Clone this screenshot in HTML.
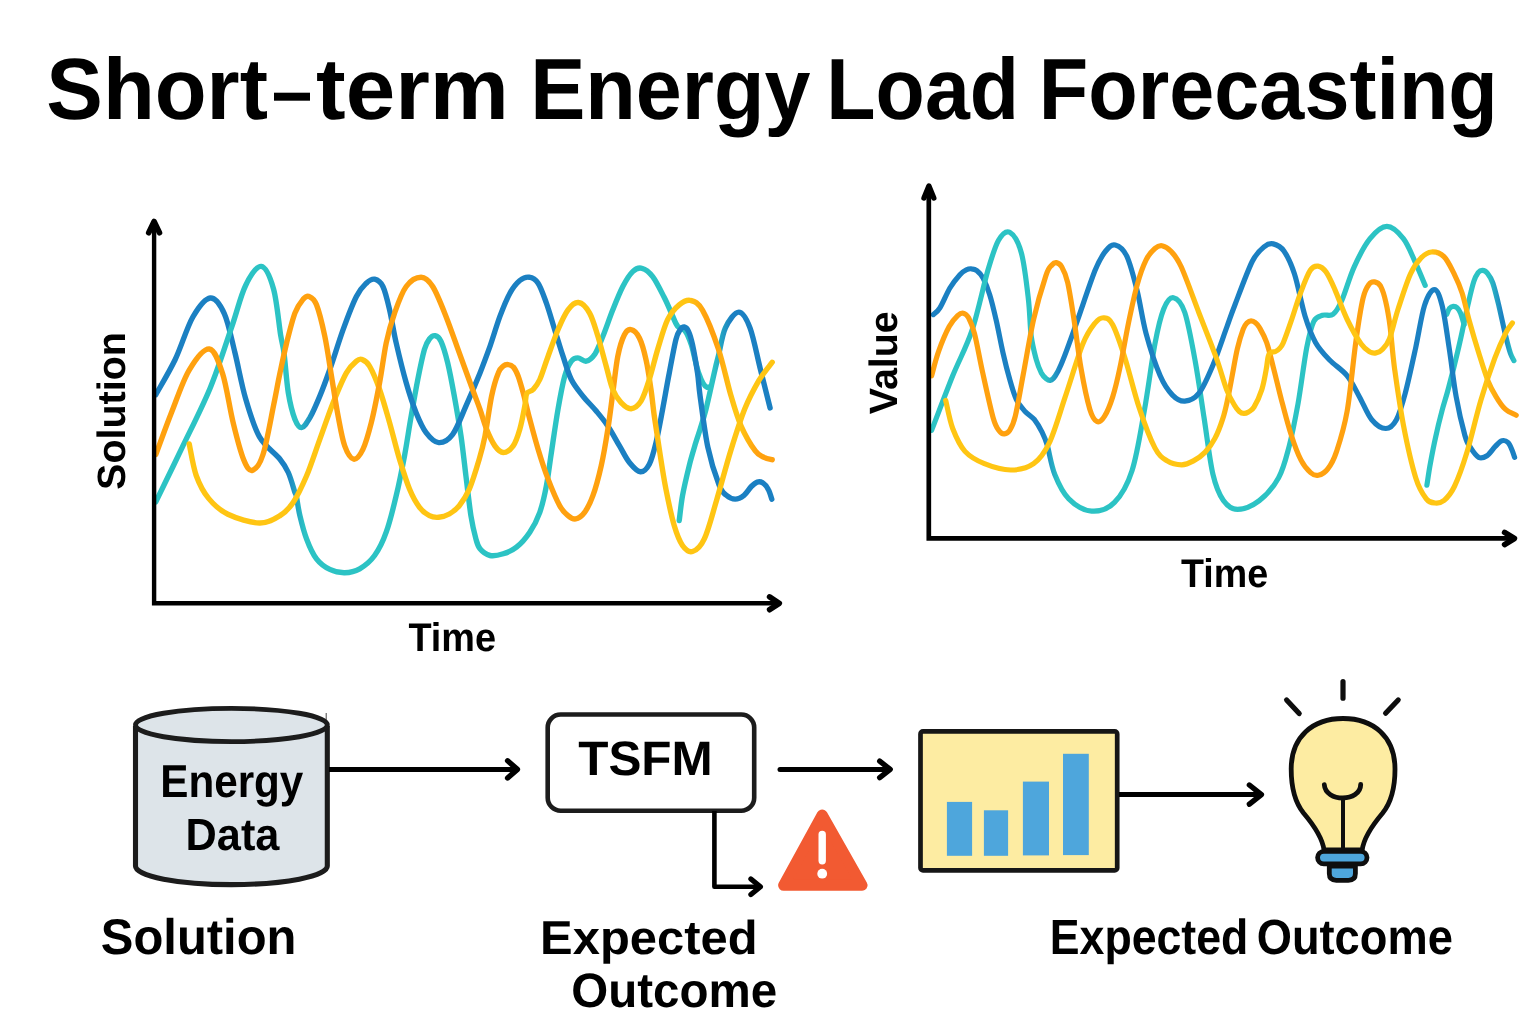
<!DOCTYPE html>
<html><head><meta charset="utf-8"><title>Short-term Energy Load Forecasting</title>
<style>
html,body{margin:0;padding:0;background:#fff;}
body{width:1536px;height:1024px;overflow:hidden;font-family:"Liberation Sans",sans-serif;}
svg{display:block;will-change:transform;position:absolute;left:0;top:0;}
text{text-rendering:geometricPrecision;font-family:"Liberation Sans",sans-serif;font-weight:bold;fill:#000;}
</style></head><body>
<svg width="1536" height="1024" viewBox="0 0 1536 1024">
<defs><linearGradient id="g1" gradientUnits="userSpaceOnUse" x1="155.8" y1="0" x2="710.4" y2="0"><stop offset="0.0000" stop-color="#1b80c2"/><stop offset="0.2360" stop-color="#1b80c2"/><stop offset="0.2684" stop-color="#2cc3c4"/><stop offset="1.0000" stop-color="#2cc3c4"/></linearGradient><linearGradient id="g2" gradientUnits="userSpaceOnUse" x1="679.2" y1="0" x2="770.1" y2="0"><stop offset="0.0000" stop-color="#2cc3c4"/><stop offset="0.3709" stop-color="#2cc3c4"/><stop offset="0.5690" stop-color="#1b80c2"/><stop offset="1.0000" stop-color="#1b80c2"/></linearGradient><linearGradient id="g3" gradientUnits="userSpaceOnUse" x1="155.8" y1="0" x2="771.8" y2="0"><stop offset="0.0000" stop-color="#2cc3c4"/><stop offset="0.2287" stop-color="#2cc3c4"/><stop offset="0.2580" stop-color="#1b80c2"/><stop offset="1.0000" stop-color="#1b80c2"/></linearGradient><linearGradient id="g4" gradientUnits="userSpaceOnUse" x1="189.2" y1="0" x2="772.2" y2="0"><stop offset="0.0000" stop-color="#ffc513"/><stop offset="0.4870" stop-color="#ffc513"/><stop offset="0.5178" stop-color="#ffa10f"/><stop offset="0.7795" stop-color="#ffa10f"/><stop offset="0.8104" stop-color="#ffc513"/><stop offset="1.0000" stop-color="#ffc513"/></linearGradient><linearGradient id="g5" gradientUnits="userSpaceOnUse" x1="155.8" y1="0" x2="772.2" y2="0"><stop offset="0.0000" stop-color="#ffa10f"/><stop offset="0.5289" stop-color="#ffa10f"/><stop offset="0.5581" stop-color="#ffc513"/><stop offset="0.8629" stop-color="#ffc513"/><stop offset="0.8921" stop-color="#ffa10f"/><stop offset="0.9081" stop-color="#ffa10f"/><stop offset="0.9373" stop-color="#ffc513"/><stop offset="0.9466" stop-color="#ffc513"/><stop offset="0.9758" stop-color="#ffa10f"/><stop offset="1.0000" stop-color="#ffa10f"/></linearGradient><linearGradient id="g6" gradientUnits="userSpaceOnUse" x1="933.3" y1="0" x2="1425.2" y2="0"><stop offset="0.0000" stop-color="#1b80c2"/><stop offset="0.2249" stop-color="#1b80c2"/><stop offset="0.2534" stop-color="#2cc3c4"/><stop offset="1.0000" stop-color="#2cc3c4"/></linearGradient><linearGradient id="g7" gradientUnits="userSpaceOnUse" x1="1426.9" y1="0" x2="1513.9" y2="0"><stop offset="0.0000" stop-color="#2cc3c4"/><stop offset="0.7108" stop-color="#2cc3c4"/><stop offset="0.8717" stop-color="#1b80c2"/><stop offset="0.8539" stop-color="#1b80c2"/><stop offset="1.0000" stop-color="#2cc3c4"/><stop offset="1.0000" stop-color="#2cc3c4"/></linearGradient><linearGradient id="g8" gradientUnits="userSpaceOnUse" x1="931.6" y1="0" x2="1514.6" y2="0"><stop offset="0.0000" stop-color="#2cc3c4"/><stop offset="0.1959" stop-color="#2cc3c4"/><stop offset="0.2199" stop-color="#1b80c2"/><stop offset="1.0000" stop-color="#1b80c2"/></linearGradient><linearGradient id="g9" gradientUnits="userSpaceOnUse" x1="945.7" y1="0" x2="1512.4" y2="0"><stop offset="0.0000" stop-color="#ffc513"/><stop offset="0.4808" stop-color="#ffc513"/><stop offset="0.5055" stop-color="#ffa10f"/><stop offset="0.7758" stop-color="#ffa10f"/><stop offset="0.8005" stop-color="#ffc513"/><stop offset="1.0000" stop-color="#ffc513"/></linearGradient><linearGradient id="g10" gradientUnits="userSpaceOnUse" x1="931.6" y1="0" x2="1516.2" y2="0"><stop offset="0.0000" stop-color="#ffa10f"/><stop offset="0.4301" stop-color="#ffa10f"/><stop offset="0.4540" stop-color="#ffc513"/><stop offset="0.8537" stop-color="#ffc513"/><stop offset="0.8776" stop-color="#ffa10f"/><stop offset="0.9017" stop-color="#ffa10f"/><stop offset="0.9256" stop-color="#ffc513"/><stop offset="0.9466" stop-color="#ffc513"/><stop offset="0.9705" stop-color="#ffa10f"/><stop offset="1.0000" stop-color="#ffa10f"/></linearGradient></defs>
<g id="leftcurves">
<path d="M155.8 394.7 C159.0 388.8 169.0 372.4 175.2 359.5 C181.3 346.6 186.9 327.6 192.7 317.3 C198.6 307.1 205.0 298.6 210.3 298.0 C215.6 297.4 220.3 304.7 224.4 313.8 C228.5 322.9 231.4 338.4 234.9 352.5 C238.4 366.6 241.4 384.1 245.5 398.2 C249.6 412.3 253.8 426.7 259.5 436.9 C265.3 447.0 275.2 453.2 280.0 459.2 C284.8 465.1 285.8 466.9 288.3 472.5 C290.8 478.0 293.6 488.4 294.9 492.4 C296.3 496.4 295.6 492.8 296.4 496.6 C297.3 500.5 298.2 508.6 299.9 515.6 C301.6 522.7 303.8 531.7 306.6 538.9 C309.3 546.1 312.6 553.7 316.5 558.8 C320.4 563.9 325.1 567.1 329.8 569.4 C334.5 571.7 339.8 572.8 344.7 572.7 C349.7 572.6 354.7 571.6 359.7 568.8 C364.7 565.9 370.2 561.6 374.6 555.5 C379.1 549.4 382.7 542.2 386.2 532.2 C389.8 522.3 393.2 508.4 396.2 495.7 C399.3 483.0 402.0 469.1 404.5 455.9 C407.0 442.6 408.9 428.7 411.2 416.0 C413.4 403.3 415.6 390.6 417.8 379.5 C420.0 368.4 422.5 356.4 424.4 349.6 C426.4 342.9 427.6 341.3 429.4 339.0 C431.2 336.7 433.1 335.3 435.1 335.7 C437.0 336.1 438.9 336.8 441.0 341.3 C443.1 345.8 445.5 353.8 447.7 362.9 C449.9 372.0 452.1 383.9 454.3 396.1 C456.5 408.3 459.0 422.7 461.0 435.9 C462.9 449.2 464.3 462.5 465.9 475.8 C467.6 489.1 469.3 505.1 470.9 515.6 C472.6 526.1 474.4 533.3 475.9 538.9 C477.4 544.4 477.7 546.1 480.0 548.8 C482.3 551.6 486.1 554.6 490.0 555.5 C493.8 556.3 498.8 555.2 503.2 553.8 C507.7 552.4 512.1 550.8 516.5 547.2 C521.0 543.6 525.9 538.0 529.8 532.2 C533.7 526.4 537.0 520.1 539.8 512.3 C542.5 504.6 544.5 495.7 546.4 485.7 C548.3 475.8 549.4 465.3 551.4 452.5 C553.3 439.8 555.8 422.1 558.0 409.4 C560.2 396.6 562.5 384.2 564.7 376.2 C566.9 368.1 569.1 364.3 571.3 361.2 C573.5 358.2 575.5 357.9 577.9 357.9 C580.4 357.9 583.5 361.8 586.2 361.2 C589.0 360.7 591.8 358.7 594.6 354.6 C597.3 350.4 599.8 343.8 602.9 336.3 C605.9 328.9 609.5 318.1 612.8 309.8 C616.1 301.5 619.5 292.9 622.8 286.5 C626.1 280.2 629.5 274.6 632.7 271.6 C635.9 268.5 638.7 267.4 642.0 268.3 C645.4 269.1 649.0 271.8 652.7 276.6 C656.3 281.3 660.8 290.7 663.9 296.8 C667.1 302.9 669.2 308.3 671.4 313.2 C673.7 318.1 675.3 323.3 677.6 326.2 C679.9 329.2 682.8 327.9 685.1 331.0 C687.4 334.1 689.6 339.7 691.3 344.7 C693.0 349.7 694.1 356.3 695.4 361.1 C696.6 365.9 697.5 369.8 698.8 373.4 C700.0 377.0 701.5 380.6 702.9 383.0 C704.3 385.3 705.7 386.8 707.0 387.3 C708.2 387.9 709.8 386.5 710.4 386.4" fill="none" stroke="url(#g1)" stroke-width="5.4" stroke-linecap="round" stroke-linejoin="round"/>
<path d="M679.2 520.6 C679.8 516.5 680.9 504.8 682.5 495.7 C684.2 486.6 687.0 474.7 689.2 465.8 C691.4 457.0 694.0 448.7 695.8 442.6 C697.6 436.5 698.4 434.9 700.1 429.3 C701.8 423.7 703.6 418.6 706.1 408.8 C708.6 398.9 712.8 378.9 714.9 370.1 C716.9 361.3 716.6 363.0 718.4 356.0 C720.2 349.0 722.0 335.2 725.4 327.9 C728.8 320.6 734.7 312.1 738.8 312.1 C742.9 312.1 746.4 318.2 750.0 327.9 C753.7 337.6 757.2 356.7 760.6 370.1 C763.9 383.4 768.5 401.7 770.1 408.0" fill="none" stroke="url(#g2)" stroke-width="5.4" stroke-linecap="round" stroke-linejoin="round"/>
<path d="M155.8 501.9 C160.2 492.8 173.1 466.5 182.2 447.4 C191.3 428.4 202.1 407.6 210.3 387.7 C218.5 367.7 225.5 344.9 231.4 327.9 C237.3 310.9 240.5 296.0 245.5 285.7 C250.4 275.4 256.6 265.8 261.3 266.4 C266.0 267.0 270.4 277.8 273.6 289.2 C276.8 300.6 278.9 324.3 280.6 334.9 C282.4 345.5 282.7 343.3 284.0 352.9 C285.3 362.6 286.5 381.7 288.3 392.8 C290.1 403.8 292.7 413.5 294.9 419.3 C297.2 425.1 299.1 427.9 301.6 427.6 C304.1 427.4 306.8 422.9 309.9 417.7 C312.9 412.4 316.5 404.1 319.8 396.1 C323.2 388.1 325.9 380.6 329.8 369.5 C333.7 358.5 338.7 341.9 343.1 329.7 C347.5 317.5 352.5 304.2 356.4 296.5 C360.2 288.7 363.3 286.1 366.3 283.2 C369.4 280.3 371.9 278.7 374.6 279.2 C377.4 279.8 380.4 281.4 382.9 286.5 C385.4 291.6 387.4 300.4 389.6 309.8 C391.8 319.2 393.4 330.8 396.2 343.0 C399.0 355.1 402.9 371.2 406.2 382.8 C409.5 394.4 412.8 404.4 416.1 412.7 C419.5 421.0 422.3 427.6 426.1 432.6 C429.9 437.6 434.3 442.3 438.7 442.6 C443.1 442.9 448.1 440.4 452.7 434.3 C457.2 428.2 461.4 416.3 465.9 406.1 C470.5 395.8 476.0 382.8 480.0 372.9 C484.0 362.9 486.6 355.7 490.0 346.3 C493.3 336.9 496.6 325.3 499.9 316.4 C503.2 307.6 506.6 299.1 509.9 293.2 C513.2 287.2 516.6 283.2 519.8 280.5 C523.1 277.9 526.1 276.8 529.1 277.2 C532.2 277.7 535.2 278.9 538.1 283.2 C541.0 287.5 543.6 295.4 546.4 303.1 C549.2 310.9 551.9 320.8 554.7 329.7 C557.5 338.5 560.2 347.9 563.0 356.2 C565.8 364.6 568.0 372.9 571.3 379.5 C574.6 386.1 578.8 390.8 582.9 396.1 C587.1 401.4 592.1 406.1 596.2 411.0 C600.4 416.0 604.0 420.2 607.8 426.0 C611.7 431.8 615.9 439.8 619.5 445.9 C623.1 452.0 625.9 458.2 629.4 462.5 C632.9 466.8 637.1 471.5 640.4 471.8 C643.7 472.1 646.7 469.0 649.3 464.2 C651.9 459.3 653.8 451.7 656.0 442.6 C658.2 433.4 660.4 421.0 662.6 409.4 C664.8 397.8 667.0 384.5 669.3 372.9 C671.5 361.2 674.1 346.8 675.9 339.6 C677.7 332.5 678.8 331.8 680.2 329.7 C681.6 327.6 682.8 326.8 684.2 327.0 C685.6 327.3 687.1 328.4 688.5 331.3 C689.9 334.3 691.0 337.7 692.5 344.6 C694.0 351.5 696.2 364.3 697.5 372.9 C698.8 381.4 698.4 383.7 700.1 396.1 C701.9 408.5 704.7 432.6 707.9 447.4 C711.0 462.3 716.0 477.1 719.1 485.1 C722.2 493.1 723.7 493.0 726.4 495.3 C729.1 497.7 732.3 499.1 735.2 499.1 C738.1 499.1 741.3 497.4 744.0 495.3 C746.7 493.2 749.1 488.7 751.3 486.5 C753.5 484.3 755.2 482.7 757.2 482.1 C759.1 481.6 761.2 481.8 763.0 483.0 C764.9 484.2 766.9 486.8 768.3 489.5 C769.8 492.2 771.2 497.5 771.8 499.1" fill="none" stroke="url(#g3)" stroke-width="5.4" stroke-linecap="round" stroke-linejoin="round"/>
<path d="M189.2 443.9 C190.4 449.2 193.0 466.5 196.2 475.5 C199.5 484.6 203.3 492.0 208.6 498.4 C213.8 504.8 219.4 510.1 227.9 514.2 C236.4 518.3 250.8 522.8 259.5 523.0 C268.2 523.2 274.4 519.1 280.0 515.6 C285.6 512.2 288.9 509.0 293.3 502.3 C297.7 495.7 302.1 486.3 306.6 475.8 C311.0 465.3 315.4 451.4 319.8 439.3 C324.3 427.1 328.7 413.8 333.1 402.7 C337.6 391.7 342.5 379.8 346.4 372.9 C350.3 365.9 353.7 363.4 356.4 361.2 C359.0 359.0 360.1 358.7 362.3 359.6 C364.6 360.4 366.8 361.2 369.6 366.2 C372.5 371.2 376.3 380.0 379.6 389.5 C382.9 398.9 386.2 411.0 389.6 422.7 C392.9 434.3 396.2 448.1 399.5 459.2 C402.9 470.2 406.2 481.0 409.5 489.1 C412.8 497.1 416.1 502.9 419.5 507.3 C422.8 511.8 426.2 514.0 429.4 515.6 C432.6 517.3 435.4 517.6 438.7 517.3 C442.0 517.0 445.9 515.9 449.3 514.0 C452.8 512.0 456.0 509.8 459.3 505.7 C462.6 501.5 465.9 496.8 469.3 489.1 C472.6 481.3 476.6 468.0 479.2 459.2 C481.8 450.3 482.9 446.5 485.0 435.9 C487.0 425.4 489.4 406.6 491.6 396.1 C493.8 385.6 496.3 377.8 498.3 372.9 C500.2 367.9 501.6 367.6 503.2 366.2 C504.9 364.8 506.6 364.4 508.2 364.6 C509.9 364.7 511.5 364.9 513.2 366.9 C514.9 368.8 516.5 371.9 518.2 376.2 C519.8 380.5 521.2 385.6 523.2 392.8 C525.1 400.0 527.3 409.9 529.8 419.3 C532.3 428.7 535.1 439.3 538.1 449.2 C541.1 459.2 544.5 469.7 548.1 479.1 C551.7 488.5 556.4 499.6 559.7 505.7 C563.0 511.8 565.3 513.4 568.0 515.6 C570.6 517.8 572.9 519.5 575.6 518.9 C578.4 518.4 581.7 516.2 584.6 512.3 C587.5 508.4 590.1 503.5 592.9 495.7 C595.7 488.0 598.7 476.9 601.2 465.8 C603.7 454.8 605.9 441.5 607.8 429.3 C609.8 417.1 611.2 404.9 612.8 392.8 C614.5 380.6 615.9 365.9 617.8 356.2 C619.7 346.6 622.2 339.1 624.4 334.7 C626.6 330.2 628.6 329.1 631.1 329.7 C633.6 330.2 636.9 333.0 639.4 338.0 C641.9 343.0 644.1 351.0 646.0 359.6 C648.0 368.1 649.6 380.0 651.0 389.5 C652.4 398.9 652.9 406.1 654.3 416.0 C655.7 426.0 657.4 437.0 659.3 449.2 C661.2 461.4 663.4 476.3 665.9 489.1 C668.4 501.8 671.5 516.2 674.2 525.6 C677.0 535.0 679.5 541.2 682.5 545.5 C685.6 549.8 688.9 552.6 692.5 551.5 C696.1 550.4 700.3 547.4 704.3 538.8 C708.4 530.3 712.2 514.8 716.6 500.2 C721.0 485.5 726.0 466.2 730.7 450.9 C735.4 435.7 740.1 420.5 744.8 408.8 C749.5 397.0 754.3 388.4 758.8 380.6 C763.4 372.9 770.0 365.4 772.2 362.3" fill="none" stroke="url(#g4)" stroke-width="5.4" stroke-linecap="round" stroke-linejoin="round"/>
<path d="M155.8 454.5 C158.5 447.4 166.1 426.3 171.6 412.3 C177.2 398.2 182.9 380.6 189.2 370.1 C195.5 359.5 203.7 348.4 209.3 349.0 C214.8 349.6 218.6 361.3 222.6 373.6 C226.6 385.9 229.6 408.5 233.2 422.8 C236.7 437.2 240.5 451.8 243.7 459.7 C246.9 467.6 249.3 471.2 252.5 470.3 C255.7 469.4 259.5 465.3 263.0 454.5 C266.6 443.6 270.8 418.8 273.6 405.2 C276.4 391.6 277.8 383.2 280.0 372.9 C282.2 362.5 284.2 352.9 286.6 343.0 C289.1 333.0 292.2 320.4 294.9 313.1 C297.7 305.8 300.9 301.9 303.2 299.1 C305.6 296.4 307.0 295.5 309.2 296.5 C311.4 297.4 313.9 298.1 316.5 304.8 C319.1 311.4 322.3 324.4 324.8 336.3 C327.3 348.2 329.3 362.9 331.5 376.2 C333.7 389.5 335.9 404.4 338.1 416.0 C340.3 427.6 342.1 438.7 344.7 445.9 C347.3 453.1 350.7 458.6 353.7 459.2 C356.8 459.7 360.1 455.3 363.0 449.2 C365.9 443.1 368.5 433.7 371.3 422.7 C374.1 411.6 377.1 396.1 379.6 382.8 C382.1 369.5 383.8 354.6 386.2 343.0 C388.7 331.3 391.2 322.5 394.6 313.1 C397.9 303.7 401.7 292.5 406.2 286.5 C410.6 280.5 416.7 277.2 421.1 277.2 C425.5 277.2 428.6 280.0 432.7 286.5 C436.9 293.1 441.6 305.3 446.0 316.4 C450.4 327.5 454.9 340.8 459.3 352.9 C463.7 365.1 469.1 380.0 472.6 389.5 C476.0 398.9 477.7 402.7 480.0 409.4 C482.3 416.0 484.2 423.2 486.6 429.3 C489.1 435.4 492.2 442.0 494.9 445.9 C497.7 449.8 500.2 452.5 503.2 452.5 C506.3 452.5 510.4 449.8 513.2 445.9 C516.0 442.0 517.9 435.9 519.8 429.3 C521.8 422.7 523.7 412.0 524.8 406.1 C526.0 400.1 525.4 396.2 526.8 393.4 C528.2 390.7 531.0 391.8 533.1 389.5 C535.3 387.1 537.3 385.0 539.8 379.5 C542.3 374.0 545.0 364.6 548.1 356.2 C551.1 347.9 554.7 337.4 558.0 329.7 C561.3 321.9 564.6 314.3 568.0 309.8 C571.4 305.2 575.0 301.9 578.6 302.5 C582.2 303.0 586.4 307.4 589.6 313.1 C592.8 318.7 595.1 327.5 597.9 336.3 C600.6 345.2 603.7 357.4 606.2 366.2 C608.7 375.1 610.3 383.4 612.8 389.5 C615.3 395.5 618.1 399.5 621.1 402.7 C624.2 405.9 627.8 409.0 631.1 408.7 C634.4 408.4 638.0 405.9 641.0 401.1 C644.1 396.2 646.6 388.1 649.3 379.5 C652.1 370.9 654.6 359.6 657.6 349.6 C660.7 339.6 664.0 327.2 667.6 319.7 C671.2 312.3 675.3 308.0 679.2 304.8 C683.1 301.6 686.9 299.5 690.8 300.5 C694.7 301.4 698.0 302.2 702.6 310.3 C707.2 318.4 713.7 334.9 718.4 349.0 C723.1 363.0 726.9 381.8 730.7 394.7 C734.5 407.6 737.1 417.0 741.2 426.3 C745.4 435.7 751.5 445.8 755.3 450.9 C759.1 456.1 761.3 455.8 764.1 457.3 C766.9 458.7 770.8 459.3 772.2 459.7" fill="none" stroke="url(#g5)" stroke-width="5.4" stroke-linecap="round" stroke-linejoin="round"/>
</g>
<g id="rightcurves">
<path d="M933.3 314.6 C934.4 313.5 937.2 312.4 939.9 307.9 C942.7 303.5 946.6 293.6 949.9 288.0 C953.2 282.5 957.1 277.8 959.9 274.7 C962.6 271.7 964.6 270.8 966.5 269.8 C968.4 268.8 969.7 268.6 971.5 268.8 C973.3 268.9 975.2 269.2 977.1 270.8 C979.1 272.3 981.0 274.1 983.1 278.1 C985.2 282.1 987.5 287.5 989.7 294.7 C992.0 301.9 994.2 311.5 996.4 321.2 C998.6 330.9 1000.8 343.1 1003.0 352.8 C1005.2 362.5 1007.5 371.6 1009.7 379.3 C1011.9 387.1 1013.8 394.0 1016.3 399.3 C1018.8 404.5 1021.6 407.4 1024.6 410.9 C1027.7 414.3 1031.7 416.4 1034.6 419.8 C1037.4 423.3 1039.8 427.6 1041.9 431.8 C1044.0 436.0 1045.1 438.0 1047.2 445.1 C1049.3 452.1 1051.1 465.3 1054.7 474.2 C1058.3 483.2 1062.6 492.7 1068.8 498.8 C1074.9 505.0 1084.0 510.5 1091.6 511.1 C1099.2 511.7 1107.7 509.1 1114.5 502.3 C1121.2 495.6 1127.1 485.9 1132.0 470.7 C1137.0 455.5 1140.5 432.0 1144.3 410.9 C1148.1 389.8 1151.7 361.1 1154.9 344.1 C1158.1 327.1 1160.6 316.7 1163.7 309.0 C1166.8 301.2 1170.0 297.1 1173.5 297.7 C1177.0 298.3 1181.1 301.8 1184.8 312.5 C1188.4 323.2 1192.1 344.1 1195.3 361.7 C1198.5 379.3 1201.2 399.2 1204.1 418.0 C1207.0 436.7 1209.7 460.4 1212.9 474.2 C1216.1 488.0 1219.3 494.7 1223.4 500.6 C1227.5 506.4 1231.5 509.4 1237.5 509.4 C1243.5 509.4 1252.4 505.9 1259.3 500.6 C1266.1 495.3 1273.6 486.8 1278.6 477.7 C1283.6 468.7 1285.9 458.4 1289.2 446.1 C1292.4 433.8 1295.0 420.3 1298.0 403.9 C1300.9 387.5 1304.1 361.4 1306.7 347.7 C1309.4 333.9 1311.1 326.7 1313.8 321.3 C1316.4 315.9 1319.3 316.5 1322.6 315.3 C1325.8 314.1 1329.9 316.8 1333.1 314.3 C1336.3 311.7 1338.4 308.1 1341.9 300.2 C1345.4 292.3 1349.5 277.1 1354.2 266.8 C1358.9 256.5 1364.6 245.4 1370.0 238.7 C1375.5 231.9 1381.3 226.4 1386.9 226.4 C1392.5 226.4 1398.6 232.5 1403.4 238.7 C1408.2 244.8 1412.1 255.5 1415.7 263.3 C1419.4 271.1 1423.6 281.7 1425.2 285.4" fill="none" stroke="url(#g6)" stroke-width="5.2" stroke-linecap="round" stroke-linejoin="round"/>
<path d="M1426.9 485.1 C1427.5 481.5 1428.9 471.2 1430.4 463.2 C1431.9 455.1 1433.7 445.6 1435.7 436.8 C1437.6 428.0 1439.9 418.7 1442.1 410.4 C1444.3 402.1 1446.3 396.8 1448.8 387.0 C1451.4 377.2 1455.2 362.1 1457.6 351.8 C1460.1 341.6 1461.8 333.3 1463.5 325.5 C1465.2 317.7 1466.2 312.3 1467.9 305.0 C1469.6 297.6 1472.0 286.9 1473.8 281.5 C1475.5 276.2 1476.7 274.6 1478.1 272.7 C1479.6 270.9 1481.0 270.3 1482.5 270.4 C1484.1 270.5 1485.8 271.2 1487.5 273.3 C1489.2 275.4 1490.9 277.7 1492.8 283.0 C1494.6 288.3 1496.5 295.9 1498.7 305.0 C1500.8 314.0 1504.0 329.1 1506.0 337.2 C1507.9 345.2 1509.1 349.4 1510.4 353.3 C1511.7 357.2 1513.3 359.4 1513.9 360.6" fill="none" stroke="url(#g7)" stroke-width="5.2" stroke-linecap="round" stroke-linejoin="round"/>
<path d="M1446.8 314.3 C1447.2 313.4 1448.4 309.8 1449.4 308.5 C1450.5 307.2 1451.9 306.5 1453.2 306.4 C1454.6 306.3 1456.1 306.8 1457.3 307.9 C1458.6 309.0 1459.4 310.4 1460.6 313.2 C1461.7 315.9 1463.5 322.7 1464.1 324.6" fill="none" stroke="#2cc3c4" stroke-width="5.2" stroke-linecap="round" stroke-linejoin="round"/>
<path d="M931.6 430.3 C935.2 421.2 946.0 392.5 952.7 375.8 C959.5 359.1 966.2 347.7 972.1 330.1 C977.9 312.5 983.5 285.3 987.9 270.3 C992.3 255.4 994.8 246.8 998.4 240.4 C1002.1 234.1 1005.9 230.3 1009.7 232.3 C1013.5 234.4 1018.2 241.7 1021.3 252.7 C1024.4 263.8 1026.7 284.5 1028.3 298.4 C1030.0 312.3 1029.9 326.0 1031.2 336.2 C1032.6 346.3 1034.6 353.3 1036.2 359.4 C1037.9 365.5 1039.6 369.5 1041.2 372.7 C1042.9 375.9 1044.6 377.4 1046.2 378.7 C1047.7 379.9 1049.0 380.8 1050.5 380.3 C1052.0 379.9 1053.4 378.7 1055.2 376.0 C1056.9 373.4 1058.8 369.9 1061.1 364.4 C1063.5 358.9 1066.7 350.3 1069.4 342.8 C1072.2 335.3 1073.5 331.7 1077.7 319.6 C1082.0 307.5 1090.5 281.7 1095.1 270.3 C1099.8 258.9 1102.3 255.2 1105.7 251.0 C1109.0 246.8 1111.6 244.1 1115.2 245.0 C1118.7 245.9 1123.1 248.5 1126.8 256.2 C1130.4 264.0 1134.1 278.5 1137.3 291.4 C1140.5 304.3 1142.3 319.5 1146.1 333.6 C1149.9 347.7 1155.8 365.5 1160.2 375.8 C1164.6 386.0 1168.4 390.9 1172.5 395.1 C1176.6 399.3 1180.4 401.4 1184.8 401.1 C1189.2 400.8 1194.1 399.3 1198.8 393.4 C1203.5 387.4 1208.2 376.4 1212.9 365.2 C1217.6 354.1 1223.3 336.5 1227.0 326.6 C1230.6 316.6 1230.5 316.3 1234.7 305.5 C1238.9 294.6 1247.3 271.4 1252.2 261.5 C1257.2 251.7 1261.0 249.3 1264.6 246.4 C1268.1 243.5 1270.1 243.2 1273.3 243.9 C1276.6 244.7 1280.4 246.0 1283.9 251.0 C1287.4 256.0 1290.9 263.0 1294.4 273.8 C1298.0 284.7 1301.5 304.6 1305.0 316.0 C1308.5 327.4 1311.4 335.1 1315.5 342.4 C1319.6 349.7 1324.3 354.4 1329.6 360.0 C1334.9 365.5 1342.2 369.6 1347.2 375.8 C1352.2 381.9 1355.4 389.6 1359.5 396.9 C1363.6 404.2 1367.4 414.5 1371.8 419.7 C1376.2 425.0 1381.7 428.5 1385.8 428.5 C1389.9 428.5 1393.2 425.6 1396.4 419.7 C1399.6 413.9 1402.0 405.4 1405.2 393.4 C1408.4 381.3 1412.5 362.3 1415.7 347.7 C1418.9 333.0 1421.4 315.1 1424.5 305.5 C1427.6 295.8 1431.4 289.6 1434.4 289.6 C1437.3 289.6 1439.6 295.8 1442.1 305.5 C1444.6 315.1 1446.8 332.4 1449.1 347.7 C1451.5 362.9 1453.5 382.2 1456.2 396.9 C1458.8 411.5 1462.6 427.1 1464.9 435.5 C1467.3 444.0 1468.1 443.8 1470.4 447.4 C1472.7 451.0 1475.9 456.0 1478.7 457.4 C1481.5 458.7 1484.2 457.5 1487.0 455.7 C1489.8 453.9 1492.8 448.9 1495.3 446.4 C1497.8 443.9 1499.8 441.4 1501.9 440.8 C1504.0 440.1 1506.3 440.9 1507.9 442.4 C1509.6 443.9 1510.8 447.2 1511.9 449.7 C1513.0 452.2 1514.1 456.1 1514.6 457.4" fill="none" stroke="url(#g8)" stroke-width="5.2" stroke-linecap="round" stroke-linejoin="round"/>
<path d="M945.7 400.4 C946.9 405.1 949.5 420.0 952.7 428.5 C956.0 437.0 959.8 445.5 965.0 451.4 C970.3 457.2 976.8 460.6 984.4 463.7 C992.0 466.8 1002.5 470.0 1010.7 470.0 C1018.9 470.0 1027.1 468.2 1033.6 463.7 C1040.0 459.1 1044.1 453.7 1049.4 442.6 C1054.7 431.4 1059.7 413.3 1065.2 396.9 C1070.8 380.5 1077.8 356.4 1082.8 344.1 C1087.8 331.8 1091.6 327.4 1095.1 323.0 C1098.6 318.7 1101.0 317.5 1103.9 317.8 C1106.8 318.1 1109.2 318.1 1112.7 324.8 C1116.2 331.5 1120.6 344.4 1125.0 358.2 C1129.4 372.0 1134.1 392.5 1139.1 407.4 C1144.0 422.4 1150.2 438.9 1154.9 447.9 C1159.6 456.8 1162.7 458.0 1167.2 460.9 C1171.7 463.7 1177.3 464.8 1181.7 464.8 C1186.1 464.8 1189.5 463.0 1193.4 460.9 C1197.3 458.8 1201.6 455.9 1205.2 452.1 C1208.7 448.4 1212.0 444.0 1214.9 438.4 C1217.9 432.9 1220.6 425.4 1222.7 418.9 C1224.9 412.4 1226.0 406.9 1227.6 399.4 C1229.2 391.9 1230.9 382.4 1232.5 374.0 C1234.1 365.5 1235.6 356.1 1237.4 348.6 C1239.2 341.1 1241.6 333.4 1243.2 329.1 C1244.9 324.8 1245.8 324.2 1247.1 322.8 C1248.5 321.4 1249.7 320.9 1251.1 320.9 C1252.5 320.9 1254.1 321.6 1255.5 322.8 C1257.0 324.0 1258.0 324.8 1259.8 328.1 C1261.7 331.4 1264.4 336.1 1266.7 342.7 C1269.0 349.4 1271.1 358.7 1273.5 368.1 C1276.0 377.6 1278.4 388.3 1281.3 399.4 C1284.3 410.4 1287.8 424.4 1291.1 434.5 C1294.3 444.6 1297.6 453.6 1300.9 459.9 C1304.1 466.3 1307.7 470.1 1310.6 472.6 C1313.5 475.2 1315.5 475.9 1318.3 475.3 C1321.2 474.7 1324.8 472.9 1327.8 468.9 C1330.9 465.0 1333.4 461.0 1336.6 451.4 C1339.8 441.7 1343.9 429.4 1347.2 410.9 C1350.4 392.5 1353.3 359.4 1356.0 340.6 C1358.6 321.9 1360.8 307.8 1363.0 298.4 C1365.2 289.1 1367.0 287.1 1369.0 284.4 C1370.9 281.6 1372.7 281.6 1374.6 281.9 C1376.5 282.2 1378.7 282.8 1380.6 286.1 C1382.4 289.5 1384.3 295.2 1385.8 302.0 C1387.4 308.7 1388.6 315.4 1390.1 326.6 C1391.5 337.7 1392.4 352.3 1394.6 368.8 C1396.9 385.2 1399.9 406.8 1403.4 425.0 C1406.9 443.2 1411.9 465.4 1415.7 477.7 C1419.5 490.0 1423.1 494.6 1426.3 498.8 C1429.5 503.0 1432.1 502.8 1435.1 503.0 C1438.0 503.3 1440.6 503.3 1443.9 500.6 C1447.1 497.8 1450.6 494.4 1454.4 486.5 C1458.2 478.6 1462.3 467.5 1466.7 453.1 C1471.1 438.8 1476.1 416.2 1480.8 400.4 C1485.5 384.6 1490.7 369.3 1494.8 358.2 C1498.9 347.1 1502.4 339.5 1505.4 333.6 C1508.3 327.7 1511.2 324.8 1512.4 323.0" fill="none" stroke="url(#g9)" stroke-width="5.2" stroke-linecap="round" stroke-linejoin="round"/>
<path d="M931.6 375.8 C932.8 371.7 935.7 359.4 938.7 351.2 C941.6 343.0 946.0 332.5 949.2 326.6 C952.4 320.6 955.7 317.5 958.0 315.3 C960.4 313.1 961.5 312.8 963.3 313.2 C965.0 313.6 966.7 314.4 968.6 317.8 C970.4 321.2 972.2 324.5 974.5 333.6 C976.9 342.7 979.5 358.2 982.6 372.3 C985.7 386.3 990.4 408.1 993.2 418.0 C996.0 427.8 997.6 428.7 999.5 431.3 C1001.4 434.0 1002.7 434.0 1004.4 433.8 C1006.1 433.6 1007.9 433.2 1009.7 430.3 C1011.5 427.3 1013.1 425.3 1015.3 416.2 C1017.5 407.1 1020.0 391.9 1023.0 375.8 C1026.1 359.7 1029.8 336.2 1033.6 319.5 C1037.4 302.8 1042.9 284.7 1045.9 275.6 C1048.9 266.5 1050.1 267.2 1051.9 265.0 C1053.6 262.9 1054.8 262.3 1056.4 262.6 C1058.1 262.9 1059.8 263.5 1061.7 266.8 C1063.6 270.1 1065.6 273.8 1067.7 282.6 C1069.7 291.4 1071.8 305.2 1074.0 319.5 C1076.2 333.9 1078.4 353.8 1081.1 368.8 C1083.7 383.7 1087.2 400.4 1089.8 409.2 C1092.5 418.0 1094.4 420.3 1096.9 421.5 C1099.3 422.7 1102.0 420.3 1104.6 416.2 C1107.2 412.1 1110.2 404.8 1112.7 396.9 C1115.2 389.0 1117.1 381.1 1119.7 368.8 C1122.4 356.4 1125.6 337.1 1128.5 323.0 C1131.4 309.0 1134.4 294.9 1137.3 284.4 C1140.2 273.8 1143.2 265.7 1146.1 259.8 C1149.0 253.8 1152.2 250.9 1154.9 248.5 C1157.5 246.2 1159.3 245.3 1161.9 245.7 C1164.6 246.1 1167.5 247.5 1170.7 251.0 C1173.9 254.5 1176.6 256.5 1181.2 266.8 C1185.9 277.1 1193.0 297.3 1198.8 312.5 C1204.7 327.7 1211.8 345.4 1216.4 358.2 C1221.0 371.1 1223.6 381.8 1226.6 389.6 C1229.6 397.4 1232.3 401.6 1234.5 405.2 C1236.6 408.9 1237.8 410.1 1239.3 411.5 C1240.9 412.9 1242.3 413.4 1243.8 413.4 C1245.4 413.5 1246.8 412.9 1248.5 411.9 C1250.2 410.8 1251.8 410.9 1254.0 407.2 C1256.2 403.5 1259.8 395.8 1261.8 389.6 C1263.8 383.4 1265.0 375.6 1266.1 370.1 C1267.2 364.5 1267.4 359.3 1268.2 356.4 C1269.1 353.5 1270.0 353.3 1271.2 352.5 C1272.4 351.7 1274.1 352.2 1275.5 351.5 C1276.8 350.9 1278.1 350.1 1279.4 348.6 C1280.7 347.1 1281.3 347.3 1283.3 342.7 C1285.2 338.2 1288.2 329.7 1291.1 321.2 C1294.0 312.8 1297.7 300.4 1300.9 292.0 C1304.1 283.5 1307.4 274.6 1310.3 270.3 C1313.1 266.0 1315.4 265.8 1318.0 266.1 C1320.6 266.4 1323.3 268.1 1326.1 272.1 C1328.9 276.0 1331.4 281.7 1334.9 289.6 C1338.4 297.6 1342.8 310.4 1347.2 319.5 C1351.6 328.6 1357.4 338.8 1361.2 344.1 C1365.0 349.5 1367.6 350.4 1370.0 351.9 C1372.5 353.3 1373.9 353.3 1376.0 352.9 C1378.1 352.5 1380.1 351.8 1382.3 349.4 C1384.6 347.1 1386.7 345.6 1389.4 338.9 C1392.0 332.1 1394.6 319.8 1398.1 309.0 C1401.7 298.1 1406.6 282.3 1410.5 273.8 C1414.3 265.3 1417.5 261.6 1421.0 258.0 C1424.5 254.4 1427.7 252.3 1431.5 252.0 C1435.4 251.8 1440.1 253.0 1443.8 256.5 C1447.5 260.0 1450.7 267.0 1453.8 273.1 C1456.8 279.2 1459.5 285.0 1462.1 293.0 C1464.7 301.0 1466.6 311.3 1469.4 321.2 C1472.2 331.2 1475.6 342.8 1478.7 352.8 C1481.8 362.7 1485.1 373.7 1488.0 381.0 C1490.9 388.3 1493.1 391.9 1496.0 396.6 C1498.8 401.3 1501.9 406.1 1505.3 409.2 C1508.6 412.3 1514.4 414.2 1516.2 415.2" fill="none" stroke="url(#g10)" stroke-width="5.2" stroke-linecap="round" stroke-linejoin="round"/>
</g>
<text transform="translate(46.25,119.40) scale(0.9759,1)" font-size="87" fill="#000">Short</text>
<rect x="274" y="92.7" width="36" height="8" fill="#000"/>
<text transform="translate(316.11,119.40) scale(1.0229,1)" font-size="87" fill="#000">term</text>
<text transform="translate(530.22,119.40) scale(0.9498,1)" font-size="87" fill="#000">Energy</text>
<text transform="translate(826.35,119.40) scale(0.9272,1)" font-size="87" fill="#000">Load</text>
<text transform="translate(1038.83,119.40) scale(0.9308,1)" font-size="87" fill="#000">Forecasting</text>
<path d="M154.1 224 V603.2 H778" fill="none" stroke="#000" stroke-width="4.4" stroke-linejoin="miter"/>
<path d="M148.7 232.8 L154.1 221.5 L159.5 232.8" fill="none" stroke="#000" stroke-width="5.6" stroke-linecap="round" stroke-linejoin="round"/>
<path d="M769.6 596.9 L779.3 603.3 L769.6 609.7" fill="none" stroke="#000" stroke-width="5.6" stroke-linecap="round" stroke-linejoin="round"/>
<text transform="translate(408.42,651.40) scale(0.9460,1)" font-size="40" fill="#000">Time</text>
<text transform="translate(124.60,489.88) rotate(-90) scale(0.9991,1)" font-size="39.5" fill="#000">Solution</text>
<path d="M928.8 188 V538.4 H1513" fill="none" stroke="#000" stroke-width="4.7" stroke-linejoin="miter"/>
<path d="M924.0 198.0 L928.9 186.0 L933.8 198.0" fill="none" stroke="#000" stroke-width="5.4" stroke-linecap="round" stroke-linejoin="round"/>
<path d="M1504.6 532.4 L1514.4 538.5 L1504.6 544.6" fill="none" stroke="#000" stroke-width="5.6" stroke-linecap="round" stroke-linejoin="round"/>
<text transform="translate(1181.02,586.50) scale(0.9405,1)" font-size="40" fill="#000">Time</text>
<text transform="translate(896.60,414.19) rotate(-90) scale(0.9969,1)" font-size="39.5" fill="#000">Value</text>
<path d="M135.5 726 V866 A95.9 18.6 0 0 0 327.3 866 V726" fill="#dde4e9" stroke="#1c1c1c" stroke-width="5.1"/>
<ellipse cx="231.4" cy="725" rx="95.9" ry="16.6" fill="#dde4e9" stroke="#1c1c1c" stroke-width="4.9"/>
<text transform="translate(160.25,797.30) scale(0.9175,1)" font-size="46" fill="#000">Energy</text>
<text transform="translate(185.57,850.40) scale(0.9619,1)" font-size="45" fill="#000">Data</text>
<text transform="translate(100.73,953.60) scale(0.9790,1)" font-size="50" fill="#000">Solution</text>
<path d="M329 769.5 H516" stroke="#000" stroke-width="5" fill="none"/>
<path d="M507.6 760.8 L517.4 769.4 L507.6 778.0" fill="none" stroke="#000" stroke-width="5.4" stroke-linecap="round" stroke-linejoin="round"/>
<path d="M326.2 713 V720" stroke="#333" stroke-width="0.9"/>
<rect x="547.7" y="714.5" width="206.5" height="96.2" rx="13" fill="#fff" stroke="#1c1c1c" stroke-width="4.6"/>
<text transform="translate(578.21,775.40) scale(1.0234,1)" font-size="48.3" fill="#000">TSFM</text>
<path d="M780 769.4 H889" stroke="#000" stroke-width="5" fill="none" stroke-linecap="round"/>
<path d="M879.7 761.2 L890.2 769.4 L879.7 777.6" fill="none" stroke="#000" stroke-width="5.4" stroke-linecap="round" stroke-linejoin="round"/>
<path d="M714.4 811 V886.8 H759" stroke="#000" stroke-width="4.6" fill="none" stroke-linejoin="round"/>
<path d="M750.9 879.0 L760.4 886.8 L750.9 894.6" fill="none" stroke="#000" stroke-width="5.2" stroke-linecap="round" stroke-linejoin="round"/>
<path d="M822.2 815 L862 885.3 H783.6 Z" fill="#f25a32" stroke="#f25a32" stroke-width="11" stroke-linejoin="round"/>
<path d="M822.2 834.5 V860.8" stroke="#fff" stroke-width="7.4" stroke-linecap="round"/>
<circle cx="822.2" cy="873.7" r="4.9" fill="#fff"/>
<text transform="translate(540.08,953.50) scale(1.0297,1)" font-size="47.5" fill="#000">Expected</text>
<text transform="translate(571.30,1006.80) scale(0.9791,1)" font-size="48.5" fill="#000">Outcome</text>
<rect x="920.5" y="731.4" width="196.7" height="139" rx="2.5" fill="#fdeca2" stroke="#161616" stroke-width="4.7"/>
<rect x="946.9" y="801.9" width="25.2" height="53.9" fill="#4ea6dc"/>
<rect x="983.9" y="810.3" width="24.2" height="45.5" fill="#4ea6dc"/>
<rect x="1022.9" y="781.6" width="26.1" height="73.8" fill="#4ea6dc"/>
<rect x="1063.0" y="753.8" width="25.8" height="101.3" fill="#4ea6dc"/>
<path d="M1119 794.6 H1260.5" stroke="#000" stroke-width="5" fill="none"/>
<path d="M1249.4 785.0 L1261.4 794.6 L1249.4 804.2" fill="none" stroke="#000" stroke-width="5.4" stroke-linecap="round" stroke-linejoin="round"/>
<path d="M1324 850 C1322.5 838 1314.5 826 1303.5 813 C1295.5 803 1291.2 789 1291.2 769 C1291.2 737 1312.5 718.5 1343.1 718.5 C1373.7 718.5 1395 737 1395 769 C1395 789 1390.7 803 1382.7 813 C1371.7 826 1363.7 838 1362.2 850 Z" fill="#fdeca2" stroke="#0e0e0e" stroke-width="4.8" stroke-linejoin="round"/>
<path d="M1324.3 784.6 C1325.5 802.5 1360.5 802.5 1360.7 784.4" fill="none" stroke="#0e0e0e" stroke-width="4.8" stroke-linecap="round"/>
<path d="M1343 797.5 V850" stroke="#0e0e0e" stroke-width="4"/>
<rect x="1317.6" y="851.3" width="49.4" height="12.6" rx="6.3" fill="#4ea6dc" stroke="#0e0e0e" stroke-width="4.8"/>
<path d="M1329.3 866 H1355.4 V873.5 Q1355.4 880.3 1348.4 880.3 H1336.3 Q1329.3 880.3 1329.3 873.5 Z" fill="#4ea6dc" stroke="#0e0e0e" stroke-width="4.8" stroke-linejoin="round"/>
<path d="M1343 681.6 V698.2 M1286.6 700 L1299.2 713.6 M1398.2 700 L1385.6 713.2" stroke="#0e0e0e" stroke-width="5.2" stroke-linecap="round"/>
<text transform="translate(1049.77,953.80) scale(0.9023,1)" font-size="49.5" fill="#000">Expected</text>
<text transform="translate(1256.69,953.80) scale(0.9143,1)" font-size="49.5" fill="#000">Outcome</text>
</svg>
</body></html>
